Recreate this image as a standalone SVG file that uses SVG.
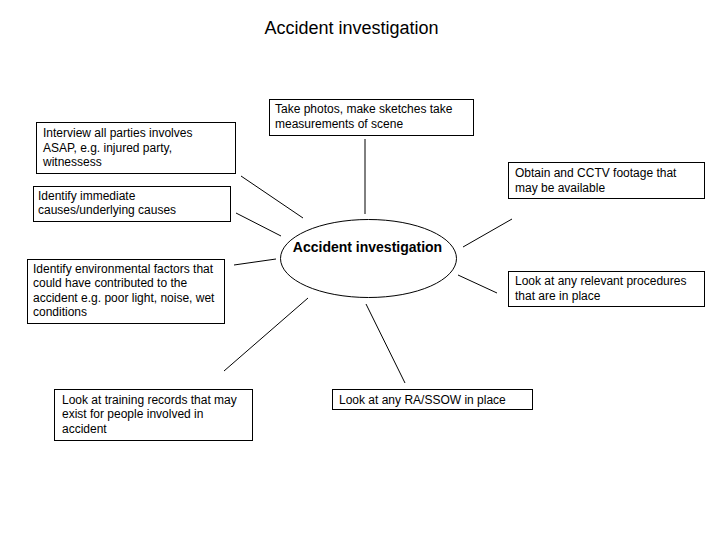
<svg xmlns="http://www.w3.org/2000/svg" width="720" height="540" viewBox="0 0 720 540">
<style>
  .box { fill: #ffffff; stroke: #000000; stroke-width: 1; }
  .t { font-family: "Liberation Sans", Arial, sans-serif; font-size: 12px; fill: #000000; }
  .title { font-family: "Liberation Sans", Arial, sans-serif; font-size: 18px; fill: #000000; text-anchor: middle; }
  .center { font-family: "Liberation Sans", Arial, sans-serif; font-size: 14px; font-weight: bold; fill: #000000; text-anchor: middle; }
  .conn line { stroke: #000000; stroke-width: 1; }
</style>
<rect x="0" y="0" width="720" height="540" fill="#ffffff"/>
<text class="title" x="351.5" y="34">Accident investigation</text>

<g id="connectors" class="conn">
  <line x1="365" y1="139" x2="365" y2="214"/>
  <line x1="241" y1="176" x2="303" y2="218"/>
  <line x1="236" y1="213" x2="281" y2="236"/>
  <line x1="234" y1="265" x2="276" y2="259"/>
  <line x1="224" y1="371" x2="308" y2="298"/>
  <line x1="366" y1="304" x2="405" y2="383"/>
  <line x1="463" y1="247" x2="512" y2="219"/>
  <line x1="458" y1="275" x2="497" y2="293"/>
</g>

<g id="center-node">
  <ellipse cx="368.5" cy="258.5" rx="88" ry="39" class="box"/>
  <text class="center" x="367.5" y="252">Accident investigation</text>
</g>

<g id="interview">
  <rect class="box" x="36.5" y="122.5" width="199" height="51"/>
  <text class="t" x="43" y="137">Interview all parties involves</text>
  <text class="t" x="43" y="151.5">ASAP, e.g. injured party,</text>
  <text class="t" x="43" y="166">witnessess</text>
</g>

<g id="immediate">
  <rect class="box" x="33.5" y="186.5" width="197" height="35"/>
  <text class="t" x="38" y="199.5">Identify immediate</text>
  <text class="t" x="38" y="214">causes/underlying causes</text>
</g>

<g id="photos">
  <rect class="box" x="269.5" y="99.5" width="204" height="36"/>
  <text class="t" x="275" y="113">Take photos, make sketches take</text>
  <text class="t" x="275" y="127.5">measurements of scene</text>
</g>

<g id="cctv">
  <rect class="box" x="508.5" y="162.5" width="196" height="36"/>
  <text class="t" x="515" y="177">Obtain and CCTV footage that</text>
  <text class="t" x="515" y="191.5">may be available</text>
</g>

<g id="procedures">
  <rect class="box" x="508.5" y="271.5" width="196" height="35"/>
  <text class="t" x="515" y="285">Look at any relevant procedures</text>
  <text class="t" x="515" y="299.5">that are in place</text>
</g>

<g id="environmental">
  <rect class="box" x="27.5" y="259.5" width="197" height="64"/>
  <text class="t" x="33" y="272.5">Identify environmental factors that</text>
  <text class="t" x="33" y="287">could have contributed to the</text>
  <text class="t" x="33" y="301.5">accident e.g. poor light, noise, wet</text>
  <text class="t" x="33" y="316">conditions</text>
</g>

<g id="training">
  <rect class="box" x="54.5" y="389.5" width="198" height="51"/>
  <text class="t" x="62" y="403.5">Look at training records that may</text>
  <text class="t" x="62" y="418">exist for people involved in</text>
  <text class="t" x="62" y="432.5">accident</text>
</g>

<g id="rassow">
  <rect class="box" x="332.5" y="389.5" width="200" height="20"/>
  <text class="t" x="339" y="404">Look at any RA/SSOW in place</text>
</g>
</svg>
